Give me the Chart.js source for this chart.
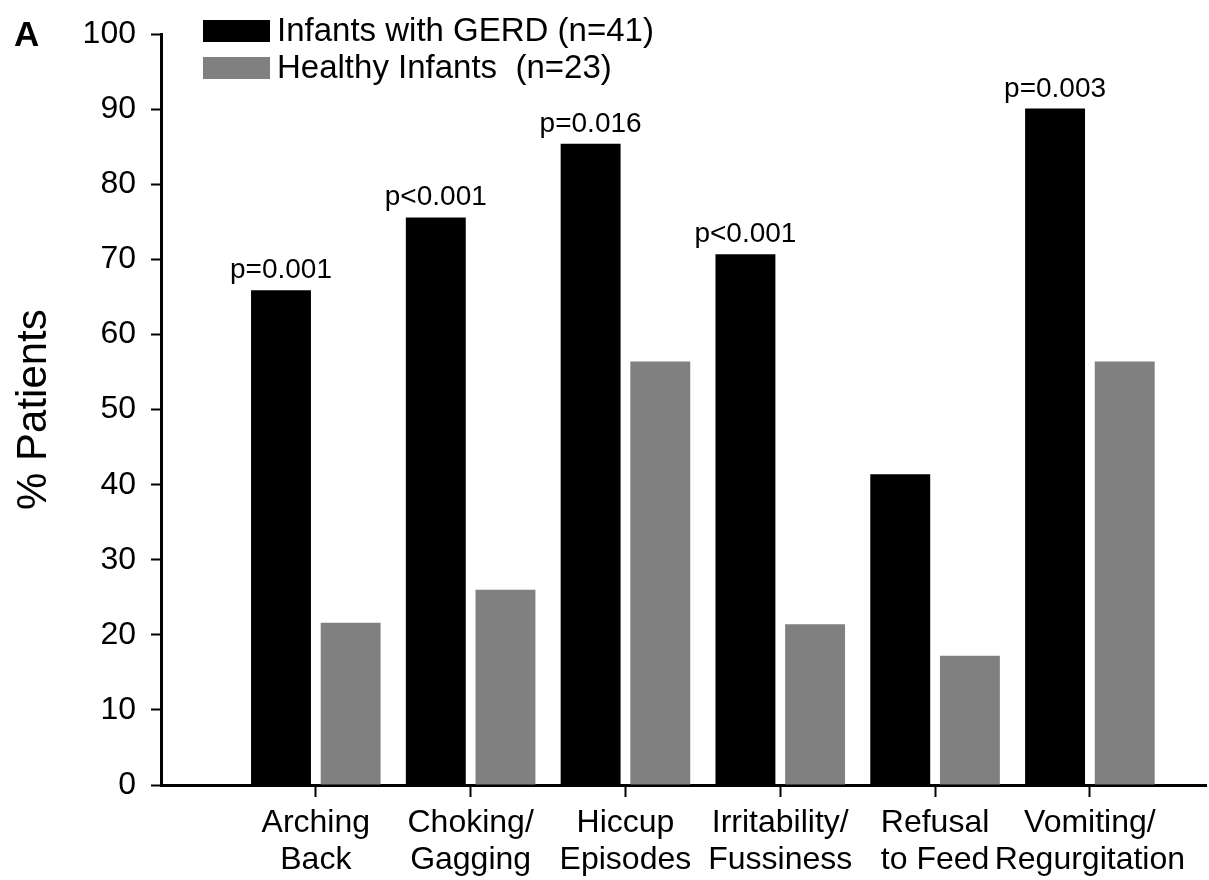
<!DOCTYPE html>
<html>
<head>
<meta charset="utf-8">
<script src="https://cdn.jsdelivr.net/npm/chart.js@4"></script>
<style>
  html, body { margin: 0; padding: 0; background: #fff; }
  canvas { display: block; }
</style>
</head>
<body>
<canvas id="symptomChart" width="1209" height="880"></canvas>
<script>
const categories = [
    ["Arching", "Back"],
    ["Choking/", "Gagging"],
    ["Hiccup", "Episodes"],
    ["Irritability/", "Fussiness"],
    ["Refusal", "to Feed"],
    ["Vomiting/", "Regurgitation"]
];
const gerdValues = [65.9, 75.6, 85.4, 70.7, 41.4, 90.1];
const healthyValues = [21.6, 26.0, 56.4, 21.4, 17.2, 56.4];
const pValues = ["p=0.001", "p<0.001", "p=0.016", "p<0.001", "", "p=0.003"];
const seriesNames = ["Infants with GERD (n=41)", "Healthy Infants  (n=23)"];
const yTicks = [0, 10, 20, 30, 40, 50, 60, 70, 80, 90, 100];

const FONT = "'Liberation Sans', Arial, sans-serif";

// p-values above the GERD bars, panel letter and the legend block
const annotations = {
    id: "annotations",
    afterDatasetsDraw(chart) {
        const ctx = chart.ctx;
        const meta = chart.getDatasetMeta(0);
        ctx.save();
        ctx.fillStyle = "#000";
        ctx.textAlign = "center";
        ctx.textBaseline = "alphabetic";
        ctx.font = "28px " + FONT;
        meta.data.forEach((bar, i) => {
            if (pValues[i]) ctx.fillText(pValues[i], bar.x, bar.y - 12);
        });

        ctx.textAlign = "left";
        ctx.textBaseline = "alphabetic";
        ctx.font = "bold 35px " + FONT;
        ctx.fillText("A", 14, 46);

        ctx.textBaseline = "middle";
        ctx.font = "33px " + FONT;
        chart.data.datasets.forEach((ds, i) => {
            const top = i === 0 ? 20 : 57;
            ctx.fillStyle = ds.backgroundColor;
            ctx.fillRect(203, top, 67, 22);
            ctx.fillStyle = "#000";
            ctx.fillText(ds.label, 277, top + 12);
        });
        ctx.restore();
    }
};

new Chart(document.getElementById("symptomChart"), {
    type: "bar",
    data: {
        datasets: [
            {
                label: seriesNames[0],
                data: gerdValues.map((v, i) => ({ x: i, y: v })),
                backgroundColor: "#000000",
                borderWidth: 0
            },
            {
                label: seriesNames[1],
                data: healthyValues.map((v, i) => ({ x: i, y: v })),
                backgroundColor: "#808080",
                borderWidth: 0
            }
        ]
    },
    options: {
        responsive: false,
        animation: false,
        devicePixelRatio: 1,
        categoryPercentage: 0.9,
        barPercentage: 0.86,
        layout: { padding: { top: 30, right: 3, left: 0, bottom: 0 } },
        plugins: {
            legend: { display: false },
            tooltip: { enabled: false }
        },
        scales: {
            x: {
                type: "linear",
                min: -1,
                max: 5.75,
                offset: false,
                afterBuildTicks: scale => {
                    scale.ticks = categories.map((c, i) => ({ value: i }));
                },
                afterFit: scale => { scale.height = 95; },
                grid: {
                    offset: false,
                    drawOnChartArea: false,
                    tickLength: 12,
                    tickWidth: 2,
                    tickColor: "#000"
                },
                border: { color: "#000", width: 3 },
                ticks: {
                    autoSkip: false,
                    maxRotation: 0,
                    padding: 8,
                    color: "#000",
                    font: { family: FONT, size: 32, lineHeight: 1.15 },
                    callback: value => categories[value]
                }
            },
            y: {
                min: 0,
                max: 100,
                afterBuildTicks: scale => {
                    scale.ticks = yTicks.map(v => ({ value: v }));
                },
                afterFit: scale => { scale.width = 161; },
                grid: {
                    drawOnChartArea: false,
                    tickLength: 10,
                    tickWidth: 2,
                    tickColor: "#000"
                },
                border: { color: "#000", width: 3 },
                ticks: {
                    padding: 15,
                    color: "#000",
                    font: { family: FONT, size: 32 }
                },
                title: {
                    display: true,
                    text: "% Patients",
                    color: "#000",
                    padding: { top: 9, bottom: 0 },
                    font: { family: FONT, size: 42 }
                }
            }
        }
    },
    plugins: [annotations]
});
</script>
</body>
</html>
